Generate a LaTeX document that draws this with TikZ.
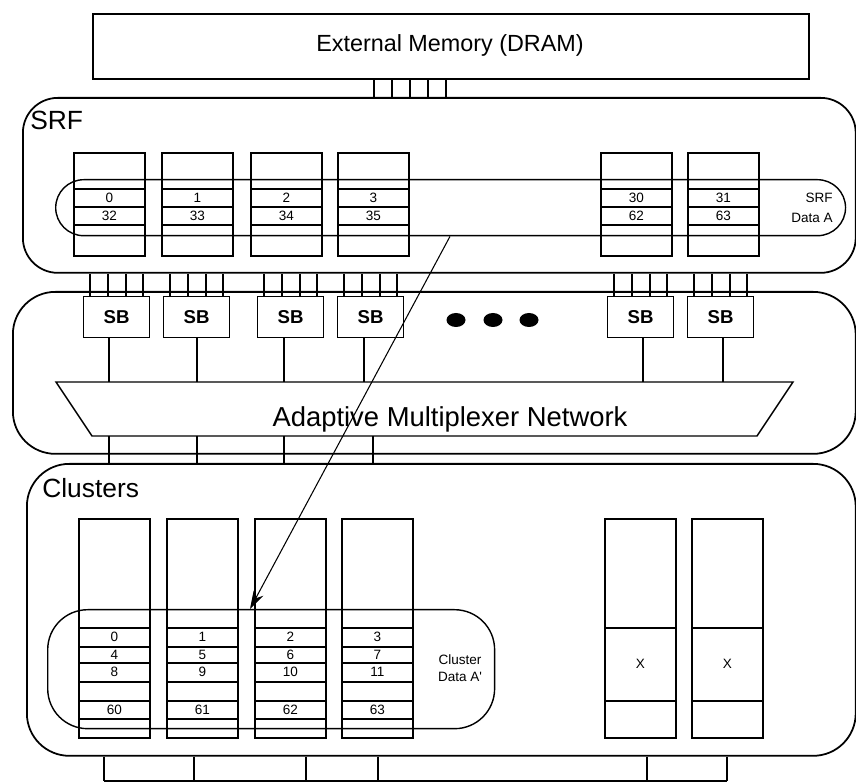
\documentclass[tikz,border=0pt]{standalone}
\usepackage{fontspec}
\setmainfont{Liberation Sans}[Ligatures=TeXOff]
\usetikzlibrary{arrows.meta}
\tikzstyle{arrow} = [line width=0.6pt,-{Stealth[length=3.6mm,width=2.2mm]}]

\begin{document}
\begin{tikzpicture}
        [
            x=0.02cm, y=-0.02cm,
            every node/.style={inner sep=0pt},
            block/.style={rectangle,draw=black,line width=1pt,rounded corners=0.7cm,anchor=north west},
            bank/.style={rectangle,draw=black,line width=1.1pt,minimum width=1.42cm,anchor=north west},
            oval/.style={rectangle,draw=black,line width=0.8pt,anchor=north west},
            sbbox/.style={rectangle,draw=black,line width=0.6pt,minimum width=1.32cm,minimum height=0.82cm,
                anchor=north west,font=\fontsize{10.6}{12}\selectfont\bfseries},
            num/.style={font=\fontsize{7.7}{9}\selectfont},
            bus/.style={line width=0.6pt},
            big/.style={font=\fontsize{15}{18}\selectfont},
        ]
    \useasboundingbox (0,0) rectangle (856,783);

    % external memory and SRF
    \node[rectangle,draw=black,line width=1pt,minimum width=14.32cm,minimum height=1.3cm,anchor=north west] (dram) at (92,13) {};
    \node[anchor=base,font=\fontsize{13.3}{16}\selectfont] (dramlabel) at (450,52) {External Memory (DRAM)};
    \node[block,minimum width=16.66cm,minimum height=3.5cm] (srf) at (22,97) {};
    \node[big,anchor=base west] (srflabel) at (30,130) {SRF};
    \foreach \x in {374,392,410,428,446}
        \draw[bus] (\x,0 |- dram.south) -- (\x,0 |- srf.north);

    \foreach \i/\x/\a/\b in {0/73/0/32,1/161/1/33,2/250/2/34,3/337/3/35,30/600/30/62,31/687/31/63}{
        \node[bank,minimum height=2.06cm] (sbank\i) at (\x,152) {};
        \foreach \y in {189,207,225}
            \draw[line width=1.1pt] (sbank\i.west |- 0,\y) -- (sbank\i.east |- 0,\y);
        \node[num] (srfna\i) at (sbank\i.center |- 0,198) {\a};
        \node[num] (srfnb\i) at (sbank\i.center |- 0,216) {\b};
    }
    \node[oval,minimum width=15.8cm,minimum height=1.12cm,rounded corners=0.56cm] (srfdata) at (55,179) {};
    \node[num,align=right,anchor=east,font=\fontsize{7.7}{11.4}\selectfont] (srfdatalabel) at (833,208) {SRF\\Data A};

    % stream buffers and multiplexer
    \node[block,minimum width=16.86cm,minimum height=3.24cm,rounded corners=0.85cm] (sbrow) at (12,291) {};
    \draw[line width=0.8pt] (56,382) coordinate (muxtl) -- (793,382) -- (757,436) -- (92,436) coordinate (muxbl) -- cycle;
    \node[font=\fontsize{15.6}{18}\selectfont,anchor=base] (muxlabel) at (450,427) {Adaptive Multiplexer Network};
    \foreach \i/\x/\t in {1/83/109,2/163/197,3/257/284,4/337/364,5/607/643,6/687/723}{
        \node[sbbox] (sbox\i) at (\x,296) {SB};
        \foreach \o in {7,25,43,60}
            \draw[bus] ({\x+\o},0 |- sbox\i.north) -- ({\x+\o},0 |- srf.south);
        \draw[bus] (\t,0 |- sbox\i.south) -- (\t,0 |- muxtl);
    }
    \foreach \x in {456,493,529}
        \fill (\x,320) ellipse [x radius=0.19cm, y radius=0.14cm];

    % clusters
    \node[block,minimum width=16.58cm,minimum height=5.84cm,rounded corners=0.85cm] (clus) at (26,463) {};
    \node[big,anchor=base west] (cluslabel) at (42,498) {Clusters};
    \foreach \x in {109,197,284,373}
        \draw[bus] (\x,0 |- muxbl) -- (\x,0 |- clus.north);

    \foreach \i/\x/\a/\b/\c/\d in {0/78/0/4/8/60,1/166/1/5/9/61,2/254/2/6/10/62,3/341/3/7/11/63}{
        \node[bank,minimum height=4.38cm] (cbank\i) at (\x,518) {};
        \foreach \y in {628,647,663,682,701,719}
            \draw[line width=1.1pt] (cbank\i.west |- 0,\y) -- (cbank\i.east |- 0,\y);
        \node[num] (cna\i) at (cbank\i.center |- 0,637) {\a};
        \node[num] (cnb\i) at (cbank\i.center |- 0,655) {\b};
        \node[num] (cnc\i) at (cbank\i.center |- 0,672) {\c};
        \node[num] (cnd\i) at (cbank\i.center |- 0,710) {\d};
    }
    \foreach \i/\x in {30/604,31/691}{
        \node[bank,minimum height=4.38cm] (cbank\i) at (\x,518) {};
        \foreach \y in {628,701}
            \draw[line width=1.1pt] (cbank\i.west |- 0,\y) -- (cbank\i.east |- 0,\y);
        \node[num] (cx\i) at (cbank\i.center |- 0,664) {X};
    }
    \node[oval,minimum width=8.94cm,minimum height=2.38cm,rounded corners=0.8cm] (cdata) at (47,609) {};
    \node[num,align=center,font=\fontsize{7.7}{10}\selectfont] (cdatalabel) at (460,668) {Cluster\\Data A'};

    \coordinate (busline) at (0,781);
    \foreach \x in {104,194,306,378,647,727}
        \draw[bus] (\x,0 |- clus.south) -- (\x,0 |- busline);
    \draw[bus] (104,0 |- busline) -- (727,0 |- busline);

    \draw[arrow] (450,0 |- srfdata.south) -- (250,0 |- cdata.north);
\end{tikzpicture}
\end{document}
